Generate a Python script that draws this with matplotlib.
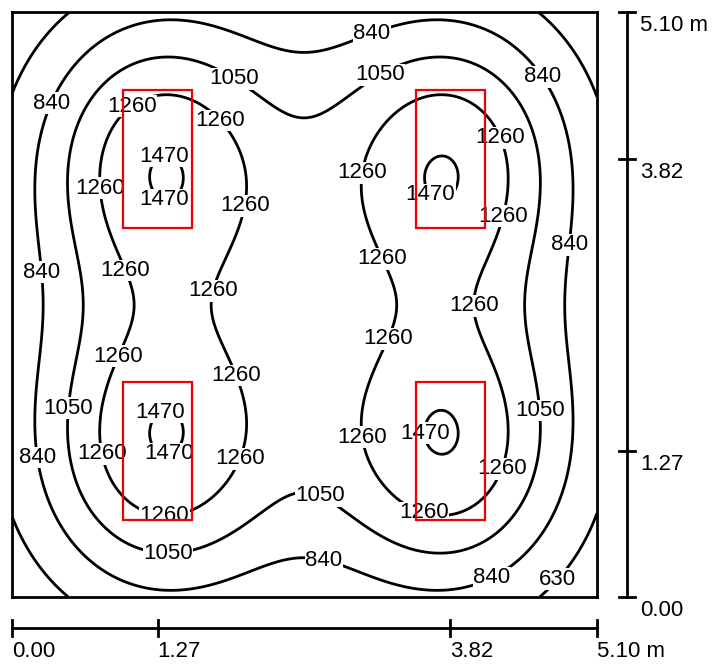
import numpy as np
import matplotlib
matplotlib.use("Agg")
import matplotlib.pyplot as plt
from matplotlib.patches import Rectangle

plt.rcParams["font.family"] = ["Liberation Sans", "DejaVu Sans"]

# Room and luminaire layout (metres)
room_w = 5.10
room_d = 5.10
lum_x = [1.27, 1.27, 3.82, 3.82]
lum_y = [1.27, 3.82, 1.27, 3.82]
lum_w = 0.60
lum_l = 1.20

# Photometric settings of the calculation
mount_h = 2.0          # luminaire height above the working plane
beam_exp = 2.5         # cos^n intensity distribution exponent
transverse = 1.10      # narrower spread across the luminaire axis
e_min = 480.0          # lux
e_max = 1485.0         # lux

# Isolux levels and scale marks
levels = [630, 840, 1050, 1260, 1470]
scale_ticks = [0.00, 1.27, 3.82, 5.10]
scale_labels = ["0.00", "1.27", "3.82", "5.10 m"]

# Label anchor points for each isoline (metres)
label_pts = [
    (3.15, 4.88), (0.33, 4.31), (4.60, 4.52), (0.24, 2.83), (4.86, 3.07),
    (0.18, 1.21), (2.74, 0.41), (4.18, 0.17),
    (1.92, 4.49), (3.23, 4.51), (0.45, 1.65), (4.65, 1.63), (2.69, 0.89),
    (1.36, 0.42),
    (1.06, 4.26), (1.80, 4.14), (0.73, 3.56), (2.04, 3.41), (0.95, 2.83),
    (1.71, 2.68), (0.90, 2.11), (1.95, 1.93), (0.74, 1.24), (1.97, 1.21),
    (1.33, 0.76), (4.32, 4.03), (3.03, 3.70), (4.36, 3.30), (3.25, 2.96),
    (4.06, 2.54), (3.30, 2.24), (3.03, 1.39), (4.34, 1.09), (3.60, 0.77),
    (1.33, 3.81), (1.33, 3.48), (1.27, 1.65), (1.36, 1.28), (3.64, 3.50),
    (3.66, 1.43),
    (4.72, 0.19),
]

# Illuminance on the working plane from rectangular luminaires
gx = np.linspace(0.0, room_w, 256)
gy = np.linspace(0.0, room_d, 256)
X, Y = np.meshgrid(gx, gy)
direct = np.zeros_like(X)
sub_x = np.linspace(-lum_w / 2, lum_w / 2, 7)
sub_y = np.linspace(-lum_l / 2, lum_l / 2, 13)
for cx, cy in zip(lum_x, lum_y):
    for ox in sub_x:
        for oy in sub_y:
            r2 = (transverse * (X - cx - ox)) ** 2 + (Y - cy - oy) ** 2 + mount_h ** 2
            direct += mount_h ** (beam_exp + 1) / r2 ** ((beam_exp + 3) / 2)
E = e_min + (e_max - e_min) * (direct - direct.min()) / (direct.max() - direct.min())

fig = plt.figure(figsize=(7.14, 6.66), dpi=100)
ax = fig.add_axes([12 / 714, (666 - 597) / 666, 585 / 714, 585 / 666])
ax.set_xlim(0, room_w)
ax.set_ylim(0, room_d)
ax.set_xticks([])
ax.set_yticks([])
for sp in ax.spines.values():
    sp.set_linewidth(2.0)
    sp.set_color("black")

cs = ax.contour(X, Y, E, levels=levels, colors="black", linewidths=2.0)
texts = ax.clabel(cs, inline=False, manual=label_pts, fontsize=16, fmt="%d")
for t in texts:
    t.set_rotation(0)
    t.set_bbox(dict(boxstyle="square,pad=0.02", fc="white", ec="none"))
    t.set_zorder(3)

for cx, cy in zip(lum_x, lum_y):
    ax.add_patch(Rectangle((cx - lum_w / 2, cy - lum_l / 2), lum_w, lum_l,
                           fill=False, ec="#f00000", lw=1.6, zorder=4))

# Scale bars below and to the right of the room
m = 1 / 114.7
yb = -31 * m
ax.plot([0, room_w], [yb, yb], color="black", lw=2.0, clip_on=False)
xr = room_w + 30 * m
ax.plot([xr, xr], [0, room_d], color="black", lw=2.0, clip_on=False)
for v, s in zip(scale_ticks, scale_labels):
    ax.plot([v, v], [yb + 8 * m, yb - 8 * m], color="black", lw=2.0, clip_on=False)
    ax.text(v, yb - 13 * m, s, ha="left", va="top", fontsize=16, clip_on=False)
    ax.plot([xr - 8 * m, xr + 8 * m], [v, v], color="black", lw=2.0, clip_on=False)
    ax.text(xr + 13 * m, v - 3 * m, s, ha="left", va="top", fontsize=16, clip_on=False)

fig.savefig("out.png", dpi=100)
